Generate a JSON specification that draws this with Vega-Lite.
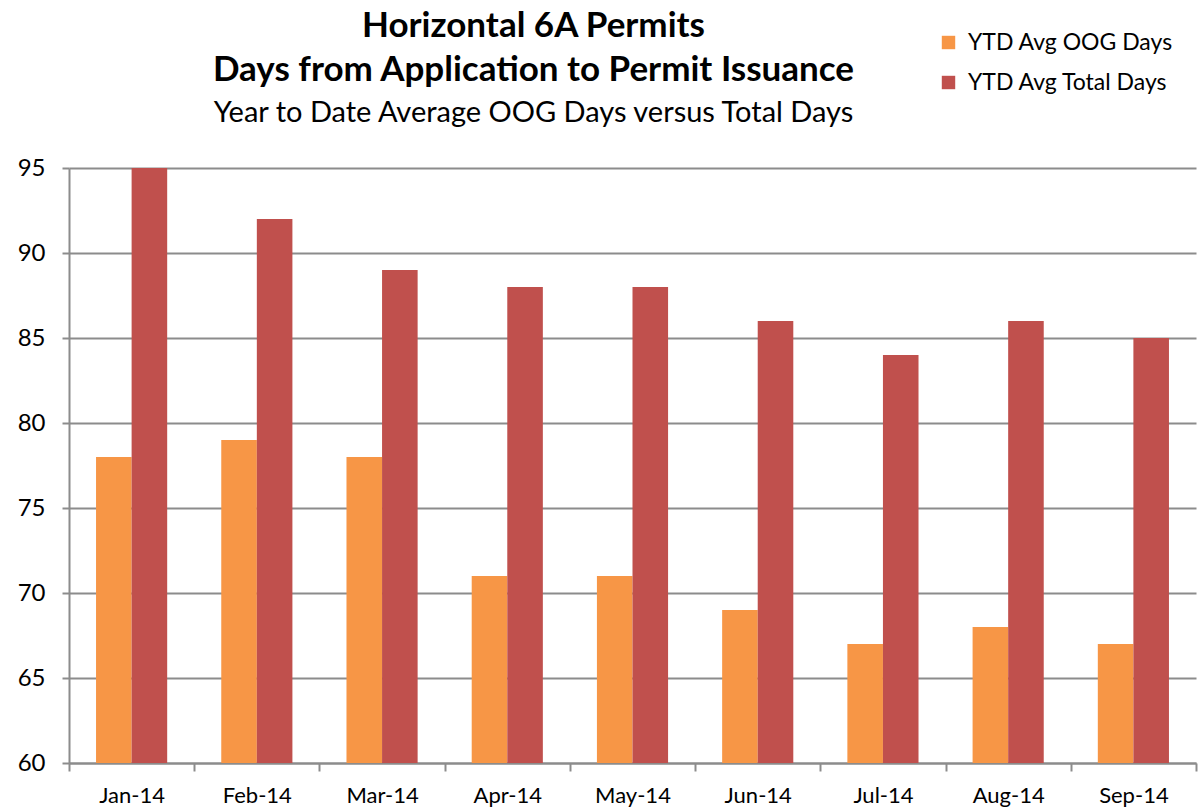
{
  "$schema": "https://vega.github.io/schema/vega-lite/v6.json",
  "autosize": "none",
  "width": 1127,
  "height": 595,
  "padding": {"left": 69, "top": 168, "right": 5, "bottom": 48},
  "background": "white",
  "config": {"view": {"stroke": null}, "font": "Lato"},
  "title": {
    "text": ["Horizontal 6A Permits", "Days from Application to Permit Issuance"],
    "subtitle": "Year to Date Average OOG Days versus Total Days",
    "anchor": "middle",
    "frame": "group",
    "dx": -99,
    "fontSize": 35,
    "fontWeight": "bold",
    "lineHeight": 44,
    "color": "black",
    "subtitleFontSize": 29,
    "subtitleColor": "black",
    "subtitlePadding": 11,
    "offset": -97
  },
  "data": {
    "values": [
      {"month": "Jan-14", "series": "YTD Avg OOG Days", "days": 78},
      {"month": "Jan-14", "series": "YTD Avg Total Days", "days": 95},
      {"month": "Feb-14", "series": "YTD Avg OOG Days", "days": 79},
      {"month": "Feb-14", "series": "YTD Avg Total Days", "days": 92},
      {"month": "Mar-14", "series": "YTD Avg OOG Days", "days": 78},
      {"month": "Mar-14", "series": "YTD Avg Total Days", "days": 89},
      {"month": "Apr-14", "series": "YTD Avg OOG Days", "days": 71},
      {"month": "Apr-14", "series": "YTD Avg Total Days", "days": 88},
      {"month": "May-14", "series": "YTD Avg OOG Days", "days": 71},
      {"month": "May-14", "series": "YTD Avg Total Days", "days": 88},
      {"month": "Jun-14", "series": "YTD Avg OOG Days", "days": 69},
      {"month": "Jun-14", "series": "YTD Avg Total Days", "days": 86},
      {"month": "Jul-14", "series": "YTD Avg OOG Days", "days": 67},
      {"month": "Jul-14", "series": "YTD Avg Total Days", "days": 84},
      {"month": "Aug-14", "series": "YTD Avg OOG Days", "days": 68},
      {"month": "Aug-14", "series": "YTD Avg Total Days", "days": 86},
      {"month": "Sep-14", "series": "YTD Avg OOG Days", "days": 67},
      {"month": "Sep-14", "series": "YTD Avg Total Days", "days": 85}
    ]
  },
  "mark": {"type": "bar"},
  "encoding": {
    "x": {
      "field": "month",
      "type": "nominal",
      "sort": null,
      "scale": {"paddingInner": 0, "paddingOuter": 0},
      "axis": {
        "title": null,
        "labelAngle": 0,
        "labelFontSize": 22,
        "labelColor": "black",
        "labelPadding": 14,
        "tickBand": "extent",
        "tickSize": 8,
        "tickWidth": 2,
        "tickColor": "#8c8c8c",
        "domainColor": "#8c8c8c",
        "domainWidth": 2,
        "grid": false
      }
    },
    "xOffset": {
      "field": "series",
      "type": "nominal",
      "scale": {"paddingInner": 0, "paddingOuter": 0.76}
    },
    "y": {
      "field": "days",
      "type": "quantitative",
      "scale": {"domain": [60, 95], "nice": false, "zero": false},
      "axis": {
        "title": null,
        "values": [60, 65, 70, 75, 80, 85, 90, 95],
        "labelFontSize": 24,
        "labelColor": "black",
        "labelPadding": 17,
        "tickSize": 7,
        "tickWidth": 2,
        "tickColor": "#8c8c8c",
        "domainColor": "#8c8c8c",
        "domainWidth": 2,
        "grid": true,
        "gridColor": "#8c8c8c",
        "gridWidth": 2
      }
    },
    "y2": {"datum": 60},
    "color": {
      "field": "series",
      "type": "nominal",
      "scale": {"domain": ["YTD Avg OOG Days", "YTD Avg Total Days"], "range": ["#F79646", "#C0504D"]},
      "legend": {
        "title": null,
        "orient": "none",
        "legendX": 868,
        "legendY": -137,
        "symbolType": "square",
        "symbolSize": 180,
        "symbolStrokeWidth": 0,
        "symbolOpacity": 1,
        "labelFontSize": 23,
        "labelLimit": 0,
        "labelColor": "black",
        "labelOffset": 8,
        "rowPadding": 16
      }
    }
  }
}
